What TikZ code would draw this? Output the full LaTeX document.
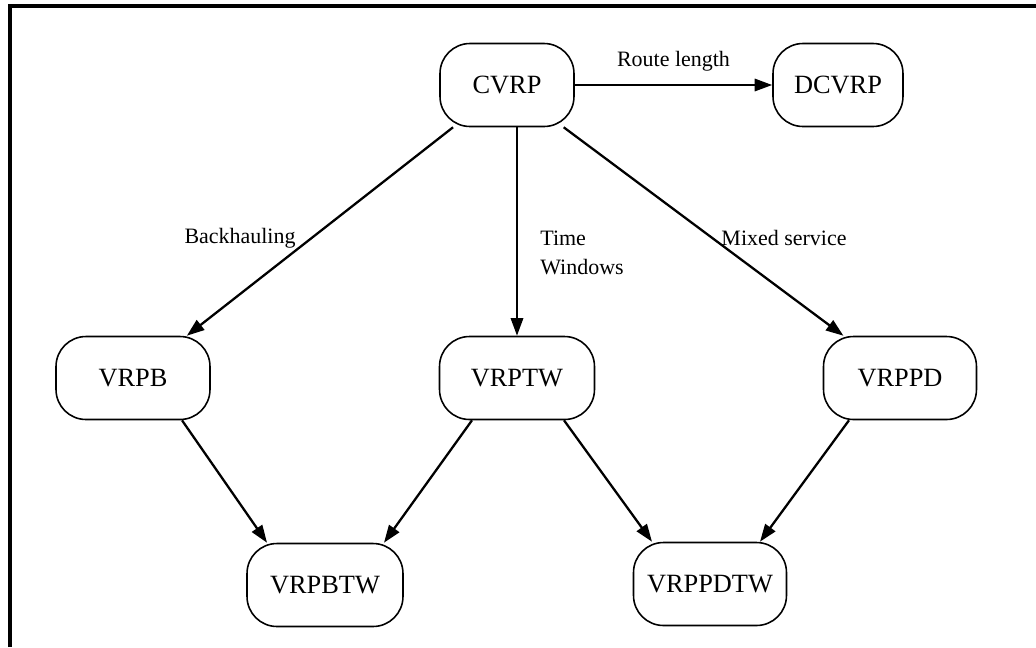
\documentclass[tikz,border=0pt]{standalone}
\usepackage{fontspec}
\setmainfont{Liberation Serif}
\usetikzlibrary{arrows.meta}

\begin{document}
\begin{tikzpicture}[x=0.02cm, y=-0.02cm,
  prob/.style={draw, rounded corners=0.6cm, minimum width=3.08cm, minimum height=1.66cm, line width=0.9pt, inner sep=0pt, font=\fontsize{15}{18}\selectfont},
  link/.style={draw, line width=1.3pt, -{Triangle[length=10pt,width=7pt]}},
  lbl/.style={inner sep=0pt, font=\fontsize{12.5}{16}\selectfont}]
\useasboundingbox (0,0) rectangle (1036,647);
\draw[line width=0.08cm] (10,647) -- (10,5.5) -- (1036,5.5);

\node[prob, minimum width=2.68cm] (cvrp) at (507,85) {CVRP};
\node[prob, minimum width=2.6cm] (dcvrp) at (838,85) {DCVRP};
\node[prob] (vrpb) at (133,378) {VRPB};
\node[prob, minimum width=3.1cm] (vrptw) at (517,378) {VRPTW};
\node[prob, minimum width=3.06cm] (vrppd) at (900,378) {VRPPD};
\node[prob, minimum width=3.12cm] (vrpbtw) at (325,585) {VRPBTW};
\node[prob, minimum width=3.06cm] (vrppdtw) at (710,584) {VRPPDTW};

\path[link] (cvrp) -- node[lbl, above=7pt] (routelen) {Route length} (dcvrp);
\path[link] (cvrp) -- (vrpb);
\path[link] (cvrp.south -| vrptw.north) -- (vrptw.north);
\path[link] (cvrp) -- (vrppd);
\path[link] ([xshift=0.98cm]vrpb.south) -- ([xshift=-1.16cm]vrpbtw.north);
\path[link] ([xshift=-0.9cm]vrptw.south) -- ([xshift=1.18cm]vrpbtw.north);
\path[link] ([xshift=0.94cm]vrptw.south) -- ([xshift=-1.16cm]vrppdtw.north);
\path[link] ([xshift=-1.02cm]vrppd.south) -- ([xshift=1.0cm]vrppdtw.north);

\node[lbl] (backhaul) at (240,238) {Backhauling};
\node[lbl, align=left, anchor=north west] (timewin) at (540,231) {Time\\Windows};
\node[lbl] (mixed) at (784,238) {Mixed service};
\end{tikzpicture}
\end{document}
